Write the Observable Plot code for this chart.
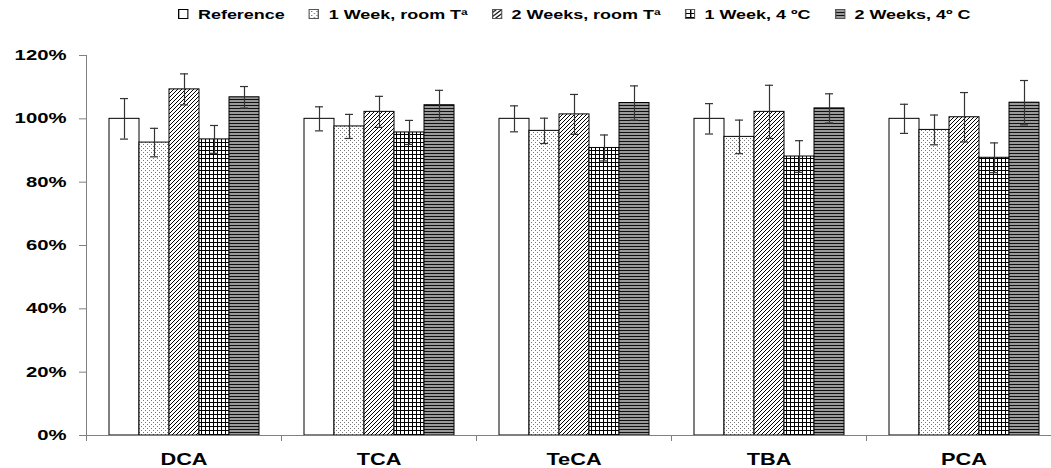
<!DOCTYPE html>
<html>
<head>
<meta charset="utf-8">
<script src="https://cdn.jsdelivr.net/npm/d3@7"></script>
<script src="https://cdn.jsdelivr.net/npm/@observablehq/plot@0.6"></script>
<style>
  html, body { margin: 0; padding: 0; background: #fff; overflow: hidden; }
  body { width: 1051px; height: 468px; position: relative; font-family: "Liberation Sans", Arial, sans-serif; }
  #legend { position: absolute; left: 178px; top: 5px; height: 18px; display: flex; align-items: center;
            transform: scaleX(1.33); transform-origin: left center; font-weight: bold; font-size: 13.5px; white-space: nowrap; }
  #legend .item { display: flex; align-items: center; margin-right: 18px; }
  #legend svg { margin-right: 7px; }
  #chart { position: absolute; left: 0; top: 30px; }
</style>
</head>
<body>
<svg width="0" height="0" style="position:absolute">
  <defs>
    <pattern id="pDots" width="4" height="4" patternUnits="userSpaceOnUse">
      <rect width="4" height="4" fill="#fff"/>
      <rect x="0" y="0" width="1" height="1" fill="#777"/>
      <rect x="2" y="2" width="1" height="1" fill="#777"/>
    </pattern>
    <pattern id="pDiag" width="4" height="4" patternUnits="userSpaceOnUse">
      <rect width="4" height="4" fill="#fff"/>
      <path d="M-1,1 L1,-1 M0,4 L4,0 M3,5 L5,3" stroke="#000" stroke-width="1"/>
    </pattern>
    <pattern id="pGrid" width="4" height="4" patternUnits="userSpaceOnUse">
      <rect width="4" height="4" fill="#fff"/>
      <rect x="0" y="0" width="4" height="1" fill="#000"/>
      <rect x="0" y="0" width="1" height="4" fill="#000"/>
    </pattern>
    <pattern id="pHoriz" width="4" height="3" patternUnits="userSpaceOnUse">
      <rect width="4" height="3" fill="#9a9a9a"/>
      <rect x="0" y="0" width="4" height="1" fill="#111"/>
    </pattern>
  </defs>
</svg>
<div id="legend"></div>
<div id="chart"></div>
<script>
const categories = ["DCA", "TCA", "TeCA", "TBA", "PCA"];
const series = ["Reference", "1 Week, room Tª", "2 Weeks, room Tª", "1 Week, 4 ºC", "2 Weeks, 4º C"];

const reference  = [100.0, 100.0, 100.0, 100.0, 100.0];
const week1Room  = [92.5, 97.6, 96.2, 94.3, 96.5];
const week2Room  = [109.3, 102.2, 101.4, 102.2, 100.5];
const week1Cold  = [93.5, 95.7, 90.8, 88.1, 87.7];
const week2Cold  = [106.8, 104.3, 105.0, 103.3, 105.1];

const errReference = [6.4, 3.8, 4.1, 4.8, 4.6];
const errWeek1Room = [4.5, 3.8, 4.0, 5.3, 4.7];
const errWeek2Room = [4.9, 4.9, 6.3, 8.4, 7.8];
const errWeek1Cold = [4.4, 3.8, 4.1, 5.0, 4.7];
const errWeek2Cold = [3.4, 4.7, 5.4, 4.6, 7.0];

const yTicks = [0, 20, 40, 60, 80, 100, 120];

const values = [reference, week1Room, week2Room, week1Cold, week2Cold];
const errors = [errReference, errWeek1Room, errWeek2Room, errWeek1Cold, errWeek2Cold];
const fills = ["#fff", "url(#pDots)", "url(#pDiag)", "url(#pGrid)", "url(#pHoriz)"];

const rows = [];
categories.forEach((c, i) => {
  series.forEach((s, j) => {
    rows.push({cat: c, series: s, value: values[j][i], lo: values[j][i] - errors[j][i], hi: values[j][i] + errors[j][i]});
  });
});

const gray = "#808080";
const plot = Plot.plot({
  width: 1051,
  height: 438,
  marginLeft: 85,
  marginRight: 0,
  marginTop: 25,
  marginBottom: 33,
  style: {overflow: "hidden", fontFamily: "'Liberation Sans', Arial, sans-serif", color: "#000", background: "#fff"},
  fx: {domain: categories, range: [85, 1061], padding: 0, label: null},
  x: {domain: series, paddingInner: 0, paddingOuter: 0.75, axis: null},
  y: {domain: [0, 120], label: null},
  color: {domain: series, range: fills},
  marks: [
    Plot.barY(rows, {fx: "cat", x: "series", y: "value", fill: "series", stroke: "#000", strokeWidth: 1}),
    Plot.ruleX(rows, {fx: "cat", x: "series", y1: "lo", y2: "hi", stroke: "#333", strokeWidth: 1.2}),
    Plot.tickY(rows, {fx: "cat", x: "series", y: "hi", stroke: "#333", strokeWidth: 1.2, insetLeft: 11, insetRight: 11}),
    Plot.tickY(rows, {fx: "cat", x: "series", y: "lo", stroke: "#333", strokeWidth: 1.2, insetLeft: 11, insetRight: 11}),
    Plot.ruleY([0], {stroke: gray}),
    Plot.frame({anchor: "left", facetAnchor: "left", stroke: gray}),
    Plot.frame({anchor: "left", insetTop: 380, insetBottom: -5, stroke: gray}),
    Plot.axisY({ticks: yTicks, tickFormat: d => d + "%", tickSize: 7, tickPadding: 13, stroke: gray,
                fontSize: 14, fontWeight: "bold", label: null}),
    Plot.axisFx({anchor: "bottom", tickSize: 0, tickPadding: 17, fontSize: 17, fontWeight: "bold", label: null})
  ]
});
document.getElementById("chart").appendChild(plot);

function stretch(selector, s) {
  plot.querySelectorAll(selector).forEach(t => {
    const tr = t.getAttribute("transform");
    if (tr) t.setAttribute("transform", tr + ` scale(${s},1)`);
    else {
      const x = +t.getAttribute("x") || 0;
      t.setAttribute("transform", `translate(${x},0) scale(${s},1) translate(${-x},0)`);
    }
  });
}
stretch('g[aria-label="y-axis tick label"] text', 1.45);
stretch('g[aria-label="fx-axis tick label"] text', 1.28);

// legend
const legend = document.getElementById("legend");
series.forEach((s, j) => {
  const item = document.createElement("div");
  item.className = "item";
  item.innerHTML = `<svg width="8" height="10"><rect x="0.5" y="0.5" width="7" height="9" fill="${fills[j]}" stroke="${j === 0 ? '#000' : '#555'}" stroke-width="1"/></svg><span>${s}</span>`;
  legend.appendChild(item);
});
</script>
</body>
</html>
